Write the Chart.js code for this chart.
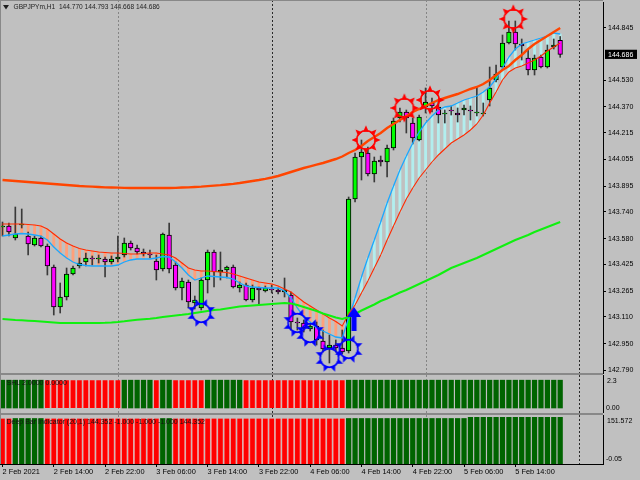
<!DOCTYPE html>
<html>
<head>
<meta charset="utf-8">
<title>GBPJPYm,H1</title>
<script src="https://cdn.jsdelivr.net/npm/chart.js@4.4.1/dist/chart.umd.min.js"></script>
<style>
  html, body { margin: 0; padding: 0; background: #c0c0c0; }
  #wrap { position: relative; width: 640px; height: 480px; overflow: hidden; background: #c0c0c0; }
  #wrap canvas { position: absolute; left: 0; }
  .edge { position: absolute; background: #888888; }
</style>
</head>
<body>
<div id="wrap">
  <canvas id="mainChart" width="640" height="376" style="top:0;width:640px;height:376px"></canvas>
  <canvas id="shlChart" width="640" height="38" style="top:375px;width:640px;height:38px"></canvas>
  <canvas id="deepChart" width="640" height="65" style="top:415px;width:640px;height:65px"></canvas>
  <div class="edge" style="left:0;top:0;width:603px;height:1px"></div>
  <div class="edge" style="left:0;top:0;width:1px;height:464px"></div>
  <div class="edge" style="left:0;top:373px;width:603px;height:2px"></div>
  <div class="edge" style="left:0;top:413px;width:603px;height:2px"></div>
</div>
<script>
// Chart data (H1 bars, index 0 = 2 Feb 06:00)
const symbol = 'GBPJPYm';
const timeLabels = ['2 Feb 2021', '2 Feb 14:00', '2 Feb 22:00', '3 Feb 06:00', '3 Feb 14:00', '3 Feb 22:00',
    '4 Feb 06:00', '4 Feb 14:00', '4 Feb 22:00', '5 Feb 06:00', '5 Feb 14:00'];
const labelBars = [0, 8, 16, 24, 32, 40, 48, 56, 64, 72, 80];
const daySeparators = [18, 42, 66, 90];
const priceTicks = [144.845, 144.530, 144.370, 144.215, 144.055, 143.895, 143.740, 143.580,
    143.425, 143.265, 143.110, 142.950, 142.790];

const opens = [
    143.650, 143.656, 143.584, 143.662, 143.596, 143.542, 143.584, 143.536, 143.410, 143.170, 143.230,
    143.368, 143.416, 143.440, 143.464, 143.458, 143.458, 143.440, 143.458, 143.482, 143.554, 143.524,
    143.500, 143.488, 143.446, 143.398, 143.602, 143.422, 143.284, 143.320, 143.194, 143.164, 143.332,
    143.500, 143.380, 143.392, 143.410, 143.284, 143.302, 143.212, 143.284, 143.266, 143.278, 143.272,
    143.260, 143.242, 143.080, 143.074, 143.038, 143.056, 142.966, 142.924, 142.942, 142.924, 142.906,
    143.818, 144.070, 144.094, 143.968, 144.052, 144.040, 144.124, 144.304, 144.340, 144.274, 144.172,
    144.370, 144.394, 144.370, 144.328, 144.352, 144.334, 144.352, 144.352, 144.334, 144.328, 144.412,
    144.532, 144.610, 144.754, 144.820, 144.748, 144.664, 144.592, 144.670, 144.610, 144.730, 144.770
];
const highs = [
    143.680, 143.674, 143.770, 143.758, 143.620, 143.596, 143.596, 143.548, 143.422, 143.314, 143.404,
    143.416, 143.464, 143.494, 143.476, 143.482, 143.470, 143.476, 143.596, 143.584, 143.566, 143.542,
    143.518, 143.512, 143.482, 143.614, 143.674, 143.440, 143.344, 143.332, 143.236, 143.344, 143.512,
    143.512, 143.500, 143.416, 143.422, 143.320, 143.314, 143.302, 143.290, 143.296, 143.302, 143.284,
    143.344, 143.260, 143.104, 143.092, 143.068, 143.080, 143.032, 143.002, 142.972, 143.032, 143.830,
    144.094, 144.172, 144.130, 144.070, 144.076, 144.142, 144.304, 144.364, 144.352, 144.304, 144.322,
    144.484, 144.424, 144.412, 144.352, 144.376, 144.364, 144.382, 144.376, 144.490, 144.394, 144.610,
    144.622, 144.802, 144.886, 144.886, 144.778, 144.712, 144.682, 144.682, 144.742, 144.778, 144.793
];
const lows = [
    143.596, 143.596, 143.572, 143.644, 143.482, 143.536, 143.530, 143.362, 143.122, 143.134, 143.212,
    143.362, 143.404, 143.416, 143.422, 143.434, 143.350, 143.428, 143.440, 143.470, 143.512, 143.488,
    143.476, 143.464, 143.332, 143.386, 143.374, 143.272, 143.212, 143.164, 143.158, 143.152, 143.254,
    143.290, 143.332, 143.344, 143.284, 143.260, 143.206, 143.200, 143.182, 143.260, 143.254, 143.248,
    143.230, 143.032, 143.032, 143.020, 143.026, 142.942, 142.900, 142.834, 142.900, 142.888, 142.894,
    143.800, 143.932, 143.956, 143.920, 144.016, 143.950, 144.112, 144.280, 144.214, 144.148, 144.166,
    144.334, 144.340, 144.274, 144.274, 144.322, 144.280, 144.322, 144.292, 144.316, 144.316, 144.376,
    144.520, 144.604, 144.748, 144.712, 144.652, 144.562, 144.562, 144.604, 144.604, 144.718, 144.668
];
const closes = [
    143.656, 143.620, 143.608, 143.668, 143.548, 143.584, 143.536, 143.416, 143.170, 143.230, 143.368,
    143.404, 143.434, 143.464, 143.458, 143.464, 143.440, 143.458, 143.470, 143.554, 143.524, 143.500,
    143.488, 143.482, 143.392, 143.608, 143.398, 143.284, 143.326, 143.200, 143.212, 143.332, 143.500,
    143.380, 143.392, 143.410, 143.290, 143.302, 143.212, 143.284, 143.272, 143.284, 143.272, 143.260,
    143.272, 143.080, 143.074, 143.044, 143.056, 142.972, 142.918, 142.942, 142.924, 142.900, 143.818,
    144.070, 144.100, 143.968, 144.046, 144.040, 144.124, 144.286, 144.340, 144.304, 144.184, 144.310,
    144.400, 144.376, 144.322, 144.334, 144.346, 144.322, 144.364, 144.346, 144.340, 144.334, 144.484,
    144.568, 144.754, 144.820, 144.748, 144.736, 144.592, 144.664, 144.610, 144.712, 144.742, 144.686
];

// moving averages
const maSlow = [
    143.932, 143.929, 143.926, 143.923, 143.920, 143.917, 143.914, 143.911, 143.908, 143.905, 143.902,
    143.899, 143.896, 143.894, 143.892, 143.890, 143.888, 143.887, 143.886, 143.885, 143.884, 143.884,
    143.884, 143.884, 143.884, 143.884, 143.884, 143.885, 143.887, 143.888, 143.890, 143.892, 143.895,
    143.898, 143.901, 143.905, 143.909, 143.914, 143.920, 143.926, 143.932, 143.939, 143.947, 143.956,
    143.968, 143.980, 143.992, 144.004, 144.014, 144.024, 144.034, 144.046, 144.058, 144.073, 144.094,
    144.112, 144.136, 144.166, 144.190, 144.214, 144.244, 144.268, 144.292, 144.316, 144.340, 144.358,
    144.376, 144.394, 144.412, 144.424, 144.436, 144.448, 144.463, 144.478, 144.490, 144.508, 144.532,
    144.562, 144.592, 144.616, 144.652, 144.682, 144.718, 144.748, 144.772, 144.796, 144.820, 144.844
];
const maGreen = [
    143.098, 143.095, 143.092, 143.090, 143.088, 143.086, 143.083, 143.080, 143.077, 143.074, 143.074,
    143.074, 143.074, 143.074, 143.074, 143.074, 143.075, 143.077, 143.080, 143.084, 143.089, 143.093,
    143.097, 143.100, 143.104, 143.110, 143.115, 143.119, 143.123, 143.128, 143.134, 143.140, 143.146,
    143.152, 143.155, 143.161, 143.167, 143.173, 143.176, 143.179, 143.182, 143.185, 143.188, 143.191,
    143.194, 143.191, 143.182, 143.170, 143.158, 143.146, 143.131, 143.119, 143.107, 143.098, 143.110,
    143.128, 143.149, 143.167, 143.185, 143.206, 143.221, 143.239, 143.257, 143.272, 143.290, 143.308,
    143.326, 143.344, 143.362, 143.383, 143.404, 143.419, 143.434, 143.449, 143.464, 143.482, 143.500,
    143.518, 143.536, 143.554, 143.572, 143.587, 143.602, 143.620, 143.635, 143.650, 143.665, 143.680
];
const maFast = [
    143.668, 143.668, 143.668, 143.668, 143.665, 143.662, 143.656, 143.638, 143.608, 143.578, 143.554,
    143.536, 143.521, 143.512, 143.506, 143.500, 143.497, 143.494, 143.494, 143.491, 143.488, 143.488,
    143.491, 143.494, 143.494, 143.488, 143.482, 143.464, 143.434, 143.404, 143.392, 143.386, 143.386,
    143.383, 143.380, 143.377, 143.368, 143.356, 143.344, 143.332, 143.320, 143.314, 143.308, 143.296,
    143.278, 143.260, 143.230, 143.200, 143.176, 143.152, 143.128, 143.104, 143.083, 143.056, 143.128,
    143.182, 143.254, 143.326, 143.404, 143.482, 143.572, 143.656, 143.740, 143.818, 143.884, 143.944,
    143.992, 144.040, 144.082, 144.118, 144.154, 144.178, 144.202, 144.232, 144.268, 144.322, 144.394,
    144.460, 144.532, 144.580, 144.604, 144.616, 144.634, 144.652, 144.676, 144.706, 144.730, 144.754
];
const maBlue = [
    143.596, 143.602, 143.608, 143.611, 143.608, 143.602, 143.596, 143.572, 143.530, 143.494, 143.464,
    143.440, 143.425, 143.419, 143.416, 143.416, 143.416, 143.416, 143.422, 143.440, 143.452, 143.458,
    143.458, 143.458, 143.464, 143.473, 143.470, 143.440, 143.404, 143.362, 143.332, 143.344, 143.356,
    143.353, 143.350, 143.347, 143.338, 143.314, 143.296, 143.290, 143.287, 143.284, 143.284, 143.284,
    143.266, 143.224, 143.164, 143.110, 143.080, 143.044, 143.026, 143.008, 142.990, 142.984, 143.104,
    143.224, 143.350, 143.464, 143.572, 143.680, 143.794, 143.896, 143.992, 144.076, 144.154, 144.220,
    144.274, 144.316, 144.352, 144.370, 144.376, 144.394, 144.412, 144.424, 144.436, 144.460, 144.490,
    144.538, 144.604, 144.670, 144.718, 144.748, 144.760, 144.772, 144.784, 144.796, 144.814, 144.808
];

// signal markers
const lowSignalBars = [31, 46, 48, 51, 54];
const lowSignalPrices = [143.134, 143.074, 143.014, 142.864, 142.918];
const highSignalBars = [57, 63, 67, 80];
const highSignalPrices = [144.172, 144.364, 144.412, 144.898];
const arrowBars = [55];
const arrowPrices = [143.098];

// sub windows (1 = up / green, 0 = down / red)
const shlState = [
    1, 1, 1, 1, 1, 1, 1, 0, 0, 0, 0,
    0, 0, 0, 0, 0, 0, 0, 0, 1, 1, 1,
    1, 1, 0, 1, 1, 0, 0, 0, 0, 0, 1,
    1, 1, 1, 1, 1, 0, 0, 0, 0, 0, 0,
    0, 0, 0, 0, 0, 0, 0, 0, 0, 0, 1,
    1, 1, 1, 1, 1, 1, 1, 1, 1, 1, 1,
    1, 1, 1, 1, 1, 1, 1, 1, 1, 1, 1,
    1, 1, 1, 1, 1, 1, 1, 1, 1, 1, 1
];
const shlValues = [
    2, 2, 2, 2, 2, 2, 2, 2, 2, 2, 2,
    2, 2, 2, 2, 2, 2, 2, 2, 2, 2, 2,
    2, 2, 2, 2, 2, 2, 2, 2, 2, 2, 2,
    2, 2, 2, 2, 2, 2, 2, 2, 2, 2, 2,
    2, 2, 2, 2, 2, 2, 2, 2, 2, 2, 2,
    2, 2, 2, 2, 2, 2, 2, 2, 2, 2, 2,
    2, 2, 2, 2, 2, 2, 2, 2, 2, 2, 2,
    2, 2, 2, 2, 2, 2, 2, 2, 2, 2, 2
];
const deepState = [
    0, 0, 1, 1, 1, 1, 1, 0, 0, 0, 0,
    0, 0, 0, 0, 0, 0, 0, 0, 0, 0, 0,
    0, 0, 0, 1, 1, 0, 0, 0, 0, 0, 0,
    0, 0, 0, 0, 0, 0, 0, 0, 0, 0, 0,
    0, 0, 0, 0, 0, 0, 0, 0, 0, 0, 1,
    1, 1, 1, 1, 1, 1, 1, 1, 1, 1, 1,
    1, 1, 1, 1, 1, 1, 1, 1, 1, 1, 1,
    1, 1, 1, 1, 1, 1, 1, 1, 1, 1, 1
];
const deepValues = [
    140.8, 140.8, 140.8, 140.8, 140.8, 140.8, 140.8, 140.8, 140.8, 140.8, 140.8,
    140.8, 140.8, 140.8, 140.8, 140.8, 140.8, 140.8, 140.8, 140.8, 140.8, 140.8,
    140.8, 140.8, 140.8, 140.8, 140.8, 140.8, 140.8, 140.8, 140.8, 140.8, 140.8,
    140.8, 140.8, 140.8, 140.8, 140.8, 140.8, 140.8, 140.8, 140.8, 140.8, 140.8,
    140.8, 140.8, 140.8, 140.8, 140.8, 140.8, 140.8, 140.8, 140.8, 140.8, 140.8,
    140.8, 140.8, 140.8, 140.8, 140.8, 140.8, 140.8, 140.8, 140.8, 140.8, 140.8,
    140.8, 140.8, 140.8, 140.8, 140.8, 140.8, 140.8, 144.352, 144.352, 144.352, 144.352,
    144.352, 144.352, 144.352, 144.352, 144.352, 144.352, 144.352, 144.352, 144.352, 144.352, 144.352
];

// ---- layout / styling ----
const X_MIN = -0.39;
const X_MAX = 93.68;
const FONT = "'Liberation Sans', Arial, sans-serif";
const bars = opens.map((_, i) => i);

function makeGear(color, rot, shift) {
    const c = document.createElement('canvas');
    c.width = 32; c.height = 32;
    const g = c.getContext('2d');
    const cx = 16 + shift, cy = 16;
    g.strokeStyle = color;
    g.fillStyle = color;
    g.lineWidth = 1.7;
    g.beginPath();
    g.arc(cx, cy, 9.3, 0, Math.PI * 2);
    g.stroke();
    for (let k = 0; k < 8; k++) {
        const a = rot + k * Math.PI / 4;
        g.beginPath();
        g.moveTo(cx + Math.cos(a - 0.32) * 8.8, cy + Math.sin(a - 0.32) * 8.8);
        g.lineTo(cx + Math.cos(a) * 14.8, cy + Math.sin(a) * 14.8);
        g.lineTo(cx + Math.cos(a + 0.32) * 8.8, cy + Math.sin(a + 0.32) * 8.8);
        g.closePath();
        g.fill();
    }
    return c;
}

function makeArrow() {
    const c = document.createElement('canvas');
    c.width = 16; c.height = 24;
    const g = c.getContext('2d');
    g.fillStyle = '#0000ff';
    g.beginPath();
    g.moveTo(7, 0); g.lineTo(14, 10); g.lineTo(9.5, 10); g.lineTo(9.5, 24);
    g.lineTo(4.5, 24); g.lineTo(4.5, 10); g.lineTo(0, 10);
    g.closePath();
    g.fill();
    return c;
}

const blueGear = makeGear('#0000ff', Math.PI / 8, 0);
const redGear = makeGear('#ff0000', -Math.PI / 2, -2);
const upArrow = makeArrow();

// dotted day separators
const daySepPlugin = {
    id: 'daySep',
    beforeDatasetsDraw(chart) {
        const { ctx, chartArea, scales } = chart;
        ctx.save();
        ctx.lineWidth = 1;
        ctx.setLineDash([2, 2]);
        daySeparators.forEach((d, k) => {
            const px = Math.round(scales.x.getPixelForValue(d)) + 0.5;
            ctx.strokeStyle = k % 2 ? '#2a2a2a' : '#858585';
            ctx.beginPath();
            ctx.moveTo(px, 0);
            ctx.lineTo(px, chartArea.bottom);
            ctx.stroke();
        });
        ctx.restore();
    }
};

const mainTextPlugin = {
    id: 'mainText',
    afterDraw(chart) {
        const { ctx } = chart;
        const y = chart.scales.y;
        const n = closes.length - 1;
        ctx.save();
        ctx.fillStyle = '#1e1e1e';
        ctx.beginPath();
        ctx.moveTo(3, 5); ctx.lineTo(9, 5); ctx.lineTo(6, 9.5);
        ctx.closePath();
        ctx.fill();
        ctx.font = '6.6px ' + FONT;
        ctx.textBaseline = 'middle';
        const title = symbol + ',H1  ' + opens[n].toFixed(3) + ' ' + highs[n].toFixed(3) + ' ' +
            lows[n].toFixed(3) + ' ' + closes[n].toFixed(3);
        ctx.fillText(title, 13.5, 7.5);
        const py = y.getPixelForValue(closes[n]);
        ctx.fillStyle = '#000';
        ctx.fillRect(605, py - 4.6, 32, 9.2);
        ctx.fillStyle = '#fff';
        ctx.font = '7px ' + FONT;
        ctx.fillText(closes[n].toFixed(3), 608, py + 0.3);
        ctx.restore();
    }
};

function subTextPlugin(label, top, bottom) {
    return {
        id: 'subText',
        afterDraw(chart) {
            const { ctx } = chart;
            ctx.save();
            ctx.fillStyle = '#141414';
            ctx.font = '7px ' + FONT;
            ctx.textBaseline = 'middle';
            ctx.fillText(label[0], 6.5, label[1]);
            ctx.fillStyle = '#000';
            ctx.fillText(top[0], 607, top[1]);
            ctx.fillText(bottom[0], 606, bottom[1]);
            ctx.restore();
        }
    };
}

function xAxis() {
    return { type: 'linear', min: X_MIN, max: X_MAX, offset: false, display: false, grid: { display: false, offset: false } };
}

function plainRight(min, max) {
    return {
        position: 'right', min: min, max: max,
        afterFit(s) { s.width = 37; s.paddingTop = 0; s.paddingBottom = 0; },
        grid: { display: false },
        ticks: { display: false },
        border: { display: true, color: '#000' }
    };
}

const common = {
    responsive: false,
    maintainAspectRatio: false,
    animation: false,
    events: [],
    plugins: { legend: { display: false }, tooltip: { enabled: false } }
};

const barBase = { grouped: false, categoryPercentage: 1, barPercentage: 1 };

function lineSet(label, values, color, width, order) {
    return {
        type: 'line', label: label, data: bars.map(i => ({ x: i, y: values[i] })),
        borderColor: color, borderWidth: width, pointRadius: 0, tension: 0, order: order
    };
}

function markerSet(label, idx, prices, img) {
    return {
        type: 'line', label: label, data: idx.map((b, k) => ({ x: b, y: prices[k] })),
        showLine: false, pointStyle: img, pointRadius: 6, order: 0
    };
}

// main chart
new Chart(document.getElementById('mainChart'), {
    type: 'bar',
    data: {
        datasets: [
            markerSet('High signal', highSignalBars, highSignalPrices, redGear),
            markerSet('Low signal', lowSignalBars, lowSignalPrices, blueGear),
            markerSet('Buy arrow', arrowBars, arrowPrices, upArrow),
            lineSet('Slow MA', maSlow, '#ff4500', 2.4, 1),
            lineSet('Green MA', maGreen, '#10f010', 2, 1),
            lineSet('Fast MA', maFast, '#ff2a00', 1.1, 2),
            lineSet('Blue MA', maBlue, '#1aa8ff', 1.3, 2),
            Object.assign({
                type: 'bar', label: 'Body',
                data: bars.map(i => ({ x: i, y: [opens[i], closes[i]] })),
                backgroundColor: c => closes[c.dataIndex] >= opens[c.dataIndex] ? '#00ff00' : '#ff00ff',
                borderColor: '#000', borderWidth: 1, borderSkipped: false,
                maxBarThickness: 4.6, order: 3
            }, barBase),
            Object.assign({
                type: 'bar', label: 'Wick',
                data: bars.map(i => ({ x: i, y: [lows[i], highs[i]] })),
                backgroundColor: '#3a3a3a', maxBarThickness: 1, order: 4
            }, barBase),
            Object.assign({
                type: 'bar', label: 'Band',
                data: bars.map(i => ({ x: i, y: [maFast[i], maBlue[i]] })),
                backgroundColor: c => maFast[c.dataIndex] > maBlue[c.dataIndex] ? '#ffa07a' : '#b2eeee',
                maxBarThickness: 2.2, order: 5
            }, barBase)
        ]
    },
    options: Object.assign({}, common, {
        layout: { autoPadding: false, padding: { left: 0, right: 0, top: 2, bottom: 3 } },
        scales: {
            x: xAxis(),
            y: {
                position: 'right', min: 142.774, max: 145.000,
                afterFit(s) { s.width = 37; s.paddingTop = 0; s.paddingBottom = 0; },
                afterBuildTicks(s) { s.ticks = priceTicks.map(v => ({ value: v })); },
                ticks: { autoSkip: false, padding: 2, color: '#000', font: { family: FONT, size: 7 }, callback: v => v.toFixed(3) },
                grid: { display: true, drawOnChartArea: false, drawTicks: true, tickLength: 3, tickColor: '#000' },
                border: { display: true, color: '#000' }
            }
        }
    }),
    plugins: [daySepPlugin, mainTextPlugin]
});

// SHL window
new Chart(document.getElementById('shlChart'), {
    type: 'bar',
    data: {
        datasets: [
            Object.assign({
                label: 'SHL up', data: bars.filter(i => shlState[i]).map(i => ({ x: i, y: [0, shlValues[i]] })),
                backgroundColor: '#006400', maxBarThickness: 4.6
            }, barBase),
            Object.assign({
                label: 'SHL down', data: bars.filter(i => !shlState[i]).map(i => ({ x: i, y: [0, shlValues[i]] })),
                backgroundColor: '#ff0000', borderColor: 'rgba(255,150,150,0.9)', borderWidth: { left: 0.7, right: 0.7 },
                borderSkipped: false, maxBarThickness: 5.4
            }, barBase)
        ]
    },
    options: Object.assign({}, common, {
        layout: { autoPadding: false, padding: 0 },
        scales: { x: xAxis(), y: plainRight(-0.359, 2.372) }
    }),
    plugins: [daySepPlugin, subTextPlugin(['SHL 2.0000 0.0000', 7.7], ['2.3', 6], ['0.00', 33])]
});

// Deep Bar window
const deepX = xAxis();
Object.assign(deepX, {
    display: true,
    position: 'bottom',
    afterFit(s) { s.height = 16; s.paddingLeft = 0; s.paddingRight = 0; },
    afterBuildTicks(s) { s.ticks = labelBars.map(v => ({ value: v })); },
    ticks: { autoSkip: false, maxRotation: 0, align: 'start', padding: 1, color: '#000',
        font: { family: FONT, size: 7.4 }, callback: (v, k) => timeLabels[k] },
    grid: { display: true, drawOnChartArea: false, drawTicks: true, tickLength: 3, tickColor: '#000', offset: false },
    border: { display: true, color: '#000' }
});

const deepLast = deepValues[deepValues.length - 1].toFixed(3);
new Chart(document.getElementById('deepChart'), {
    type: 'bar',
    data: {
        datasets: [
            Object.assign({
                label: 'Deep up', data: bars.filter(i => deepState[i]).map(i => ({ x: i, y: [0, deepValues[i]] })),
                backgroundColor: '#006400', maxBarThickness: 4.6
            }, barBase),
            Object.assign({
                label: 'Deep down', data: bars.filter(i => !deepState[i]).map(i => ({ x: i, y: [0, deepValues[i]] })),
                backgroundColor: '#ff0000', borderColor: 'rgba(255,150,150,0.9)', borderWidth: { left: 0.7, right: 0.7 },
                borderSkipped: false, maxBarThickness: 5.4
            }, barBase)
        ]
    },
    options: Object.assign({}, common, {
        layout: { autoPadding: false, padding: 0 },
        scales: { x: deepX, y: plainRight(-0.05, 151.572) }
    }),
    plugins: [daySepPlugin, subTextPlugin(
        ['Deep Bar Indicator (20,1) ' + deepLast + ' -1.000 -1.000 -1.000 ' + deepLast, 7.5],
        ['151.572', 6], ['-0.05', 44])]
});
</script>
</body>
</html>
